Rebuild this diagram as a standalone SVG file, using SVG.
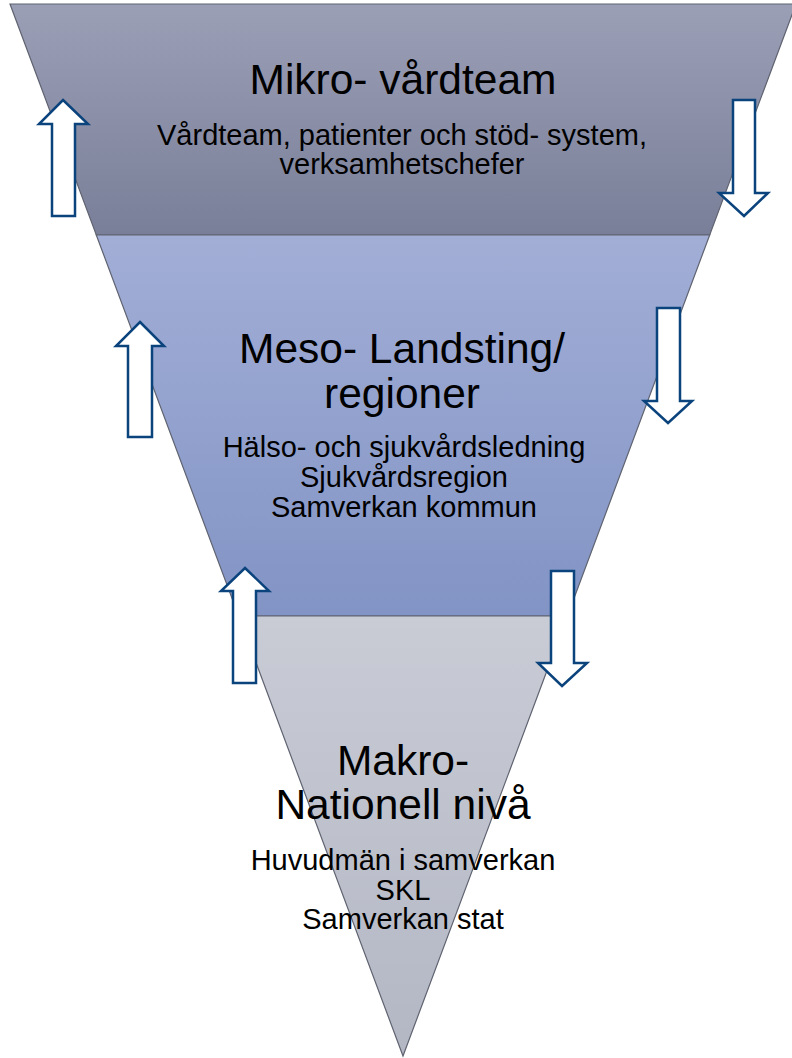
<svg xmlns="http://www.w3.org/2000/svg" width="792" height="1058" viewBox="0 0 792 1058">
<defs>
<linearGradient id="gTop" x1="0" y1="0" x2="0" y2="1">
<stop offset="0" stop-color="#9b9fb6"/>
<stop offset="1" stop-color="#7a7f99"/>
</linearGradient>
<linearGradient id="gMid" x1="0" y1="0" x2="0" y2="1">
<stop offset="0" stop-color="#a2aed6"/>
<stop offset="1" stop-color="#8294c5"/>
</linearGradient>
<linearGradient id="gBot" x1="0" y1="0" x2="0" y2="1">
<stop offset="0" stop-color="#c9ccd5"/>
<stop offset="1" stop-color="#b3b7c4"/>
</linearGradient>
</defs>
<style>
.band{stroke:#5f6370;stroke-width:1.2}
.t{font-family:"Liberation Sans",Arial,sans-serif;text-anchor:middle;fill:#000}
.h{font-size:42.5px}
.b{font-size:29px}
.arr{fill:#ffffff;stroke:#0b437d;stroke-width:2.5;stroke-linejoin:miter}
</style>
<g id="mikro">
<polygon class="band" fill="url(#gTop)" points="10,4 796,4 709.7,235 96.3,235"/>
<text class="t h" x="403" y="94">Mikro- vårdteam</text>
<text class="t b" x="402" y="145">Vårdteam, patienter och stöd- system,</text>
<text class="t b" x="402" y="174">verksamhetschefer</text>
</g>
<g id="meso">
<polygon class="band" fill="url(#gMid)" points="96.3,235 709.7,235 567.4,616 238.6,616"/>
<text class="t h" x="402" y="363">Meso- Landsting/</text>
<text class="t h" x="402" y="408">regioner</text>
<text class="t b" x="404" y="457">Hälso- och sjukvårdsledning</text>
<text class="t b" x="404" y="487">Sjukvårdsregion</text>
<text class="t b" x="404" y="517">Samverkan kommun</text>
</g>
<g id="makro">
<polygon class="band" fill="url(#gBot)" points="238.6,616 567.4,616 403,1056"/>
<text class="t h" x="403" y="775">Makro-</text>
<text class="t h" x="403" y="819">Nationell nivå</text>
<text class="t b" x="403" y="870">Huvudmän i samverkan</text>
<text class="t b" x="403" y="899.5">SKL</text>
<text class="t b" x="403" y="929">Samverkan stat</text>
</g>
<g id="connectors">
<path class="arr" d="M63,100 L88,124 L75,124 L75,216 L52,216 L52,124 L39,124 Z"/>
<path class="arr" d="M140,322 L164,346 L152,346 L152,437 L128,437 L128,346 L116,346 Z"/>
<path class="arr" d="M245,568 L269,591 L256,591 L256,683 L233,683 L233,591 L221,591 Z"/>
<path class="arr" d="M744,216 L768,193 L755,193 L755,100 L733,100 L733,193 L719,193 Z"/>
<path class="arr" d="M668,423 L692,401 L680,401 L680,308 L657,308 L657,401 L644,401 Z"/>
<path class="arr" d="M562,686 L587,663 L574,663 L574,571 L551,571 L551,663 L538,663 Z"/>
</g>
</svg>
